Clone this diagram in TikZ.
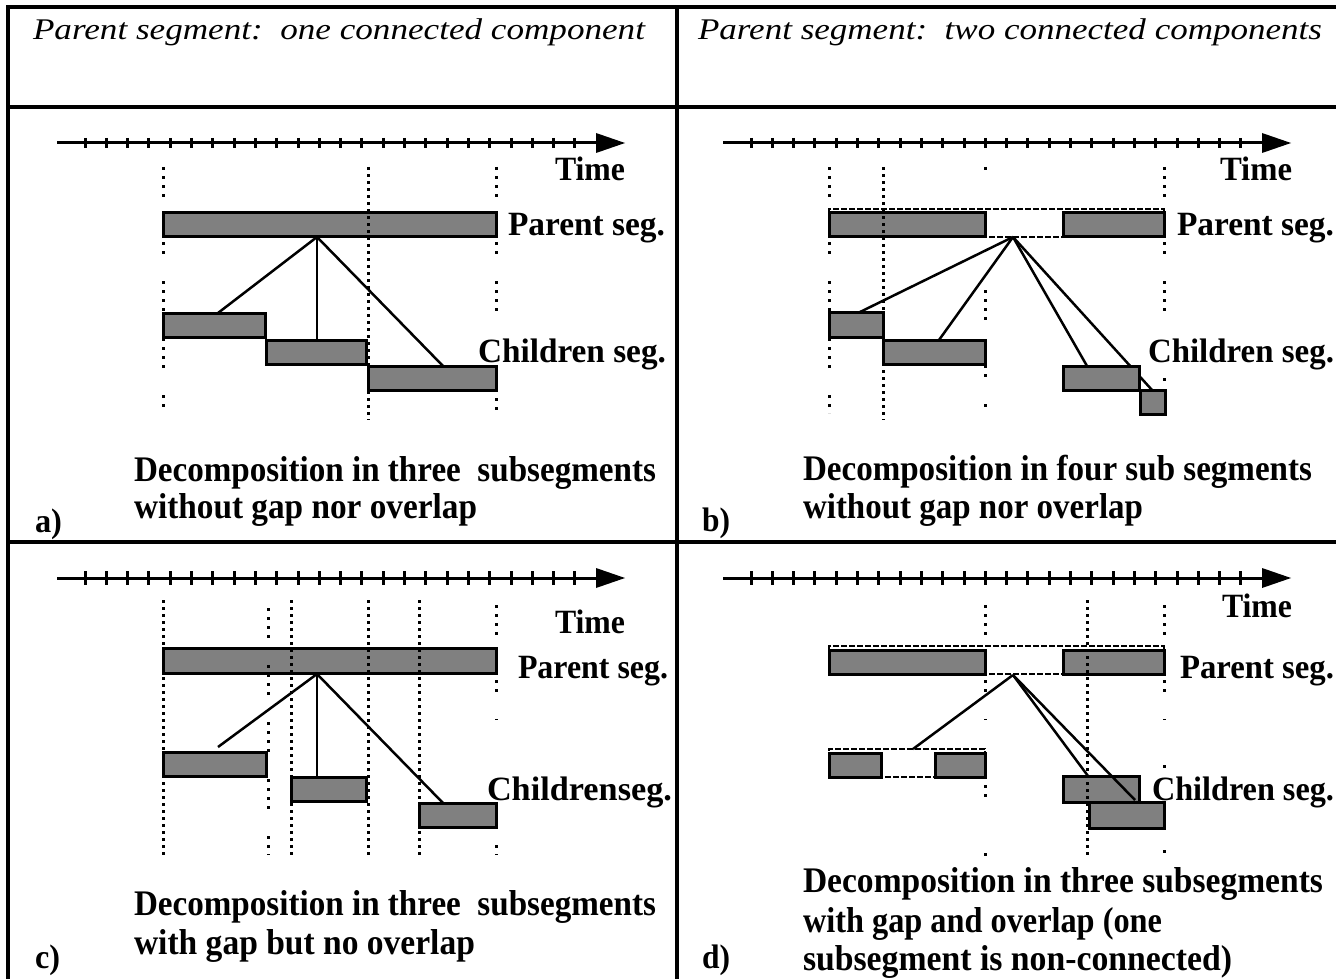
\documentclass[tikz,border=0pt]{standalone}
\usepackage{fontspec}
\setmainfont{Liberation Serif}
\usepackage{graphicx}
\usetikzlibrary{fit}
\definecolor{segray}{RGB}{128,128,128}
\tikzset{
  frameline/.style={line width=3.5pt},
  segbox/.style={draw=black, fill=segray, line width=3pt, inner sep=0pt, outer sep=0pt},
  outl/.style={draw=black, line width=2.5pt, dash pattern=on 6pt off 2pt, inner sep=0pt, outer sep=0pt},
  conn/.style={line width=2.5pt},
  sparse/.style={line width=3pt, dash pattern=on 3pt off 6pt on 3pt off 6pt on 3pt off 6pt on 3pt off 27pt},
  dense/.style={line width=3pt, dash pattern=on 3pt off 4pt},
  axisline/.style={line width=3pt},
  tickmark/.style={line width=3pt},
  lab/.style={anchor=base west, inner sep=0pt, outer sep=0pt},
}
\newcommand\lbl[6]{\node[lab] (#1) at (#2,#3) {\resizebox{#4pt}{\height}{\fontsize{#5pt}{#5pt}\selectfont #6}};}
\newcommand\timeaxis[3]{%
  \draw[axisline] (#1,#2) -- ({#1+542},#2);
  \fill ({#1+539},{#2-10}) -- ({#1+568},#2) -- ({#1+539},{#2+10}) -- cycle;
  \foreach \k in {0,...,23} \draw[tickmark] ({#1+28+21.3*\k},{#2-#3}) -- ({#1+28+21.3*\k},{#2+#3});
}
\begin{document}
\begin{tikzpicture}[x=1pt,y=-1pt]
\useasboundingbox (0,0) rectangle (1336,979);
\fill[white] (0,0) rectangle (1336,979);
% table frame
\draw[frameline] (8,979) -- (8,7) -- (1336,7);
\draw[frameline] (8,107) -- (1336,107);
\draw[frameline] (8,542) -- (1336,542);
\draw[frameline] (677,7) -- (677,979);
% headers
\lbl{h1}{33}{40}{612}{30}{\itshape Parent segment:\ \ one connected component}
\lbl{h2}{698}{40}{624}{30}{\itshape Parent segment:\ \ two connected components}

% ================= panel a
\timeaxis{57}{143}{5}
\node[segbox, fit={(163,212) (496,236)}] (pa) {};
\coordinate (apa) at (317,237);
\coordinate (ta1) at (218,313);
\coordinate (ta2) at (317,340);
\coordinate (ta3) at (443,366);
\draw[conn] (apa) -- (ta1);
\draw[conn] (apa) -- (ta2);
\draw[conn] (apa) -- (ta3);
\node[segbox, fit={(163,313) (265,337)}] (a1) {};
\node[segbox, fit={(266,340) (366,364)}] (a2) {};
\node[segbox, fit={(368,366) (496,390)}] (a3) {};
\draw[sparse] (163,167) -- (163,412);
\draw[dense] (368,167) -- (368,420);
\draw[sparse] (496,167) -- (496,335);
\draw[sparse] (496,380) -- (496,412);
\lbl{tima}{555}{180}{70}{34}{\bfseries Time}
\lbl{psa}{508}{235}{157}{34}{\bfseries Parent seg.}
\lbl{csa}{478}{362}{188}{34}{\bfseries Children seg.}
\lbl{da1}{134}{481}{522}{36}{\bfseries Decomposition in three\ \ subsegments}
\lbl{da2}{134}{518}{343}{36}{\bfseries without gap nor overlap}
\lbl{la}{35}{532}{27}{34}{\bfseries a)}

% ================= panel b
\timeaxis{723}{143}{5}
\node[segbox, fit={(829,212) (985,236)}] (pb1) {};
\node[segbox, fit={(1063,212) (1164,236)}] (pb2) {};
\node[outl, fit={(829,209) (1164,237)}] (pbo) {};
\coordinate (apb) at (1013,237);
\coordinate (tb1) at (860,312);
\coordinate (tb2) at (939,340);
\coordinate (tb3) at (1087,366);
\coordinate (tb4) at (1152,390);
\draw[conn] (apb) -- (tb1);
\draw[conn] (apb) -- (tb2);
\draw[conn] (apb) -- (tb3);
\draw[conn] (apb) -- (tb4);
\node[segbox, fit={(829,312) (883,337)}] (b1) {};
\node[segbox, fit={(883,340) (985,364)}] (b2) {};
\node[segbox, fit={(1063,366) (1139,390)}] (b3) {};
\node[segbox, fit={(1140,390) (1165,414)}] (b4) {};
\draw[sparse] (829,167) -- (829,413);
\draw[dense] (883,167) -- (883,420);
\draw[sparse] (985,167) -- (985,170);
\draw[sparse] (985,290) -- (985,412);
\draw[sparse] (1164,167) -- (1164,325);
\draw[sparse] (1164,378) -- (1164,381);
\lbl{timb}{1220}{180}{72}{34}{\bfseries Time}
\lbl{psb}{1177}{235}{157}{34}{\bfseries Parent seg.}
\lbl{csb}{1148}{362}{186}{34}{\bfseries Children seg.}
\lbl{db1}{803}{480}{509}{36}{\bfseries Decomposition in four sub segments}
\lbl{db2}{803}{518}{340}{36}{\bfseries without gap nor overlap}
\lbl{lb}{702}{531}{28}{34}{\bfseries b)}

% ================= panel c
\timeaxis{57}{578}{7}
\node[segbox, fit={(163,648) (496,673)}] (pc) {};
\coordinate (apc) at (317,674);
\coordinate (tc1) at (218,747);
\coordinate (tc2) at (317,777);
\coordinate (tc3) at (443,803);
\draw[conn] (apc) -- (tc1);
\draw[conn] (apc) -- (tc2);
\draw[conn] (apc) -- (tc3);
\node[segbox, fit={(163,752) (266,776)}] (c1) {};
\node[segbox, fit={(291,777) (366,801)}] (c2) {};
\node[segbox, fit={(419,803) (496,827)}] (c3) {};
\draw[dense] (163,600) -- (163,855);
\draw[sparse] (268,608) -- (268,855);
\draw[dense] (291,600) -- (291,855);
\draw[dense] (368,600) -- (368,855);
\draw[dense] (419,600) -- (419,855);
\draw[sparse] (496,605) -- (496,720);
\draw[sparse] (496,845) -- (496,855);
\lbl{timc}{555}{633}{70}{34}{\bfseries Time}
\lbl{psc}{518}{678}{150}{34}{\bfseries Parent seg.}
\lbl{csc}{487}{800}{185}{34}{\bfseries Childrenseg.}
\lbl{dc1}{134}{915}{522}{36}{\bfseries Decomposition in three\ \ subsegments}
\lbl{dc2}{134}{954}{341}{36}{\bfseries with gap but no overlap}
\lbl{lc}{35}{968}{25}{34}{\bfseries c)}

% ================= panel d
\timeaxis{723}{578}{7}
\node[segbox, fit={(829,650) (985,674)}] (pd1) {};
\node[segbox, fit={(1063,650) (1164,674)}] (pd2) {};
\node[outl, fit={(829,646) (1164,674)}] (pdo) {};
\coordinate (apd) at (1013,675);
\coordinate (td1) at (913,749);
\coordinate (td3) at (1088,776);
\coordinate (td4) at (1135,800);
\draw[conn] (apd) -- (td1);
\draw[conn] (apd) -- (td3);
\node[segbox, fit={(829,753) (881,777)}] (d1) {};
\node[segbox, fit={(935,753) (985,777)}] (d2) {};
\node[outl, fit={(829,749) (985,777)}] (ddo) {};
\node[segbox, fit={(1063,776) (1139,802)}] (d3) {};
\node[segbox, fit={(1089,802) (1164,828)}] (d4) {};
\draw[conn] (apd) -- (td4);
\draw[sparse] (985,605) -- (985,720);
\draw[sparse] (985,785) -- (985,800);
\draw[sparse] (985,853) -- (985,856);
\draw[dense] (1087,600) -- (1087,855);
\draw[sparse] (1164,605) -- (1164,720);
\draw[sparse] (1164,765) -- (1164,768);
\draw[sparse] (1164,850) -- (1164,856);
\lbl{timd}{1222}{617}{70}{34}{\bfseries Time}
\lbl{psd}{1180}{678}{154}{34}{\bfseries Parent seg.}
\lbl{csd}{1152}{800}{182}{34}{\bfseries Children seg.}
\lbl{dd1}{803}{892}{520}{36}{\bfseries Decomposition in three subsegments}
\lbl{dd2}{803}{932}{359}{36}{\bfseries with gap and overlap (one}
\lbl{dd3}{803}{970}{429}{36}{\bfseries subsegment is non-connected)}
\lbl{ld}{702}{968}{28}{34}{\bfseries d)}
\end{tikzpicture}
\end{document}
